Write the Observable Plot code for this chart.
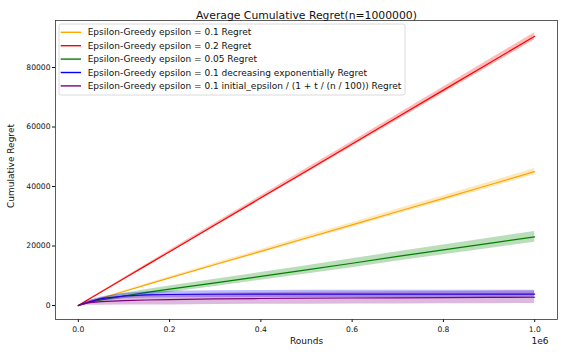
<!DOCTYPE html>
<html><head><meta charset="utf-8">
<script src="https://cdn.jsdelivr.net/npm/d3@7"></script>
<script src="https://cdn.jsdelivr.net/npm/@observablehq/plot@0.6"></script>
<style>
html,body{margin:0;padding:0;background:#fff;}
#chart{position:relative;width:563px;height:354px;font-family:"DejaVu Sans",sans-serif;}
</style></head><body><div id="chart"></div>
<script>
// ---- data ----
const rounds = [0, 20000, 50000, 100000, 150000, 200000, 300000, 400000, 500000, 600000, 700000, 800000, 900000, 1000000];
const seriesNames = [
  "Epsilon-Greedy epsilon = 0.1 Regret",
  "Epsilon-Greedy epsilon = 0.2 Regret",
  "Epsilon-Greedy epsilon = 0.05 Regret",
  "Epsilon-Greedy epsilon = 0.1 decreasing exponentially Regret",
  "Epsilon-Greedy epsilon = 0.1 initial_epsilon / (1 + t / (n / 100)) Regret"
];
const seriesColors = ["#FFA500", "#FF0000", "#008000", "#0000FF", "#800080"];
const meanEps01  = [0, 1000, 2400, 4700, 7000, 9300, 13800, 18200, 22700, 27100, 31600, 36000, 40500, 45000];
const meanEps02  = [0, 1820, 4530, 9060, 13580, 18100, 27150, 36200, 45250, 54300, 63350, 72400, 81450, 90500];
const meanEps005 = [0, 900, 1900, 3200, 4400, 5500, 7600, 9800, 12000, 14200, 16500, 18700, 20900, 23100];
const meanExp    = [0, 1100, 2300, 3200, 3550, 3700, 3780, 3820, 3840, 3850, 3850, 3850, 3850, 3850];
const meanInv    = [0, 900, 1300, 1650, 1850, 2000, 2200, 2350, 2450, 2530, 2600, 2660, 2720, 2780];
const bandEps01  = [0, 80, 150, 250, 320, 390, 500, 600, 680, 760, 830, 900, 960, 1020];
const bandEps02  = [0, 90, 170, 280, 360, 440, 570, 680, 780, 870, 960, 1040, 1120, 1200];
const bandEps005 = [0, 300, 600, 850, 1000, 1100, 1200, 1300, 1400, 1500, 1550, 1620, 1700, 1800];
const bandExp    = [0, 300, 600, 900, 1000, 1100, 1200, 1250, 1300, 1300, 1300, 1300, 1300, 1300];
const bandInv    = [0, 800, 1200, 1500, 1700, 1800, 1900, 1950, 2000, 2000, 2050, 2050, 2100, 2100];
const xTicks = [0, 200000, 400000, 600000, 800000, 1000000];
const yTicks = [0, 20000, 40000, 60000, 80000];
const titleText = "Average Cumulative Regret(n=1000000)";
const xLabel = "Rounds";
const yLabel = "Cumulative Regret";
const xOffsetText = "1e6";

const means = [meanEps01, meanEps02, meanEps005, meanExp, meanInv];
const bands = [bandEps01, bandEps02, bandEps005, bandExp, bandInv];

const series = seriesNames.map((name, i) => rounds.map((x, j) => ({
  name, x, y: means[i][j], lo: means[i][j] - bands[i][j], hi: means[i][j] + bands[i][j]
})));

const marks = [];
series.forEach((rows, i) => {
  marks.push(Plot.areaY(rows, {x: "x", y1: "lo", y2: "hi", fill: seriesColors[i], fillOpacity: 0.27}));
  marks.push(Plot.lineY(rows, {x: "x", y: "y", stroke: seriesColors[i], strokeWidth: 1.2}));
});
marks.push(Plot.frame({stroke: "#333", strokeWidth: 0.8}));
marks.push(Plot.text([titleText], {frameAnchor: "top", dy: -9, fontSize: 10.8, fill: "#111"}));
marks.push(Plot.text([xLabel], {frameAnchor: "bottom", dy: 24, fontSize: 9, fill: "#111"}));
marks.push(Plot.text([xOffsetText], {frameAnchor: "bottom-right", dx: -9, dy: 24, fontSize: 9, fill: "#111"}));

const svg = Plot.plot({
  width: 563, height: 354,
  marginLeft: 55, marginRight: 6, marginTop: 20, marginBottom: 35,
  style: {fontFamily: "DejaVu Sans, sans-serif", fontSize: "7.6px", color: "#111", background: "#fff"},
  x: {domain: [-50000, 1050000], ticks: xTicks, tickFormat: d => (d / 1e6).toFixed(1), tickSize: 3, tickPadding: 4, label: null},
  y: {domain: [-4700, 95800], ticks: yTicks, tickFormat: d => String(d), tickSize: 3, tickPadding: 2, label: null},
  marks
});

// y axis label
d3.select(svg).append("text")
  .attr("transform", "translate(11,166) rotate(-90)")
  .attr("text-anchor", "middle").attr("dy", "0.35em")
  .attr("font-size", 9).attr("fill", "#111").attr("font-family", "DejaVu Sans, sans-serif")
  .text(yLabel);

// legend (matplotlib-style box inside the plot)
const lg = d3.select(svg).append("g").attr("transform", "translate(59,24)").attr("text-anchor", "start");
lg.append("rect").attr("width", 346).attr("height", 71).attr("rx", 2)
  .attr("fill", "#fff").attr("fill-opacity", 0.8).attr("stroke", "#d0d0d0").attr("stroke-width", 0.8);
seriesNames.forEach((name, i) => {
  const cy = 8.3 + i * 13.4;
  lg.append("line").attr("x1", 1.7).attr("x2", 22).attr("y1", cy).attr("y2", cy)
    .attr("stroke", seriesColors[i]).attr("stroke-width", 1.4);
  lg.append("text").attr("x", 28.7).attr("y", cy).attr("dy", "0.35em").attr("text-anchor", "start")
    .attr("font-size", 9).attr("fill", "#111").attr("font-family", "DejaVu Sans, sans-serif").text(name);
});

document.getElementById("chart").appendChild(svg);
</script></body></html>
